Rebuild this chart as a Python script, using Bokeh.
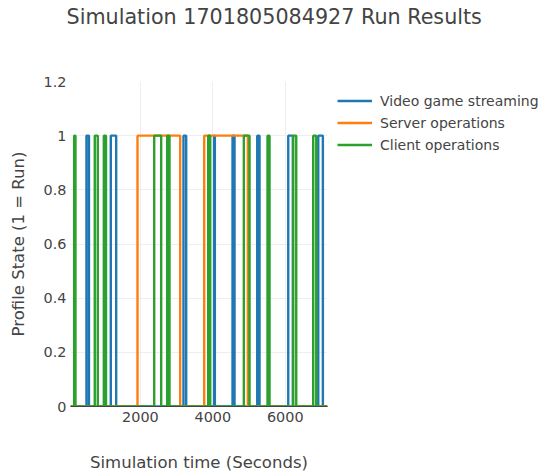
from bokeh.plotting import figure
from bokeh.models import Range1d, FixedTicker, NumeralTickFormatter, Legend, LegendItem, Title
from bokeh.embed import file_html
from bokeh.resources import INLINE

# ---- data (seconds) ----
sim_start = 70
sim_end = 7166
series_names = ["Video game streaming", "Server operations", "Client operations"]
series_colors = ["#1f77b4", "#ff7f0e", "#2ca02c"]

video_on = [511, 1182, 3190, 4036, 4544, 5226, 6082, 6911]
video_off = [580, 1331, 3264, 4056, 4599, 5289, 6209, 7038]

server_on = [1920, 3762]
server_off = [3099, 4966]

client_on = [171, 740, 990, 2381, 2740, 3872, 4856, 5510, 6220, 6772]
client_off = [207, 823, 1050, 2574, 2803, 3928, 5013, 5565, 6303, 6855]

x_ticks = [2000, 4000, 6000]
y_ticks = [0, 0.2, 0.4, 0.6, 0.8, 1.0, 1.2]

chart_title = "Simulation 1701805084927 Run Results"


def steps(on, off):
    t, s = [sim_start], [0]
    for a, b in zip(on, off):
        t += [a, b]
        s += [1, 0]
    t.append(sim_end)
    s.append(0)
    return t, s


FONT = "DejaVu Sans"
TXT = "#444444"

p = figure(frame_width=257, frame_height=325,
           min_border_left=70, min_border_right=223, min_border_top=81, min_border_bottom=68,
           output_backend="svg", toolbar_location=None,
           x_range=Range1d(sim_start, sim_end), y_range=Range1d(0, 1.2))

p.outline_line_color = None
p.background_fill_color = "white"
p.border_fill_color = "white"

renderers = []
for (on, off), name, col in zip([(video_on, video_off), (server_on, server_off), (client_on, client_off)],
                                series_names, series_colors):
    t, s = steps(on, off)
    r = p.step(t, s, mode="after", line_color=col, line_width=2.4)
    renderers.append((name, r))

# real title (outermost in the top panel)
p.title.text = chart_title
p.title.text_font = FONT
p.title.text_font_size = "20.7px"
p.title.text_font_style = "normal"
p.title.text_color = TXT
p.title.align = "left"
p.title.offset = -4
p.title.standoff = 4

# blank spacer next to the frame, pushes the title to the top of the page
spacer = Title(text=" ", text_font=FONT, text_font_size="20.7px", standoff=25)
p.add_layout(spacer, "above")

# axes
p.xaxis.ticker = FixedTicker(ticks=x_ticks)
p.yaxis.ticker = FixedTicker(ticks=y_ticks)
p.yaxis.formatter = NumeralTickFormatter(format="0.[0]")
for ax in (p.xaxis[0], p.yaxis[0]):
    ax.major_tick_line_color = None
    ax.minor_tick_line_color = None
    ax.major_tick_out = 0
    ax.major_tick_in = 0
    ax.major_label_text_font = FONT
    ax.major_label_text_font_size = "14.4px"
    ax.major_label_text_color = TXT
    ax.axis_label_text_font = FONT
    ax.axis_label_text_font_size = "16.5px"
    ax.axis_label_text_font_style = "normal"
    ax.axis_label_text_color = TXT
p.yaxis.axis_line_color = None
p.xaxis.axis_line_color = "#444444"
p.xaxis.axis_line_width = 1
p.yaxis.major_label_standoff = 4
p.xaxis.major_label_standoff = 5
p.xaxis.axis_label = "Simulation time (Seconds)"
p.yaxis.axis_label = "Profile State (1 = Run)"
p.xaxis.axis_label_standoff = 28
p.yaxis.axis_label_standoff = 13

p.xgrid.grid_line_color = "#eeeeee"
p.ygrid.grid_line_color = "#eeeeee"

legend = Legend(items=[LegendItem(label=n, renderers=[r]) for n, r in renderers],
                location="top_left", margin=10, padding=0, spacing=3,
                glyph_width=35, glyph_height=19, label_height=19, label_standoff=8,
                label_text_font=FONT, label_text_font_size="14px", label_text_color=TXT,
                border_line_color=None, background_fill_alpha=0)
p.add_layout(legend, "right")

open("out.html", "w").write(file_html(p, INLINE))
